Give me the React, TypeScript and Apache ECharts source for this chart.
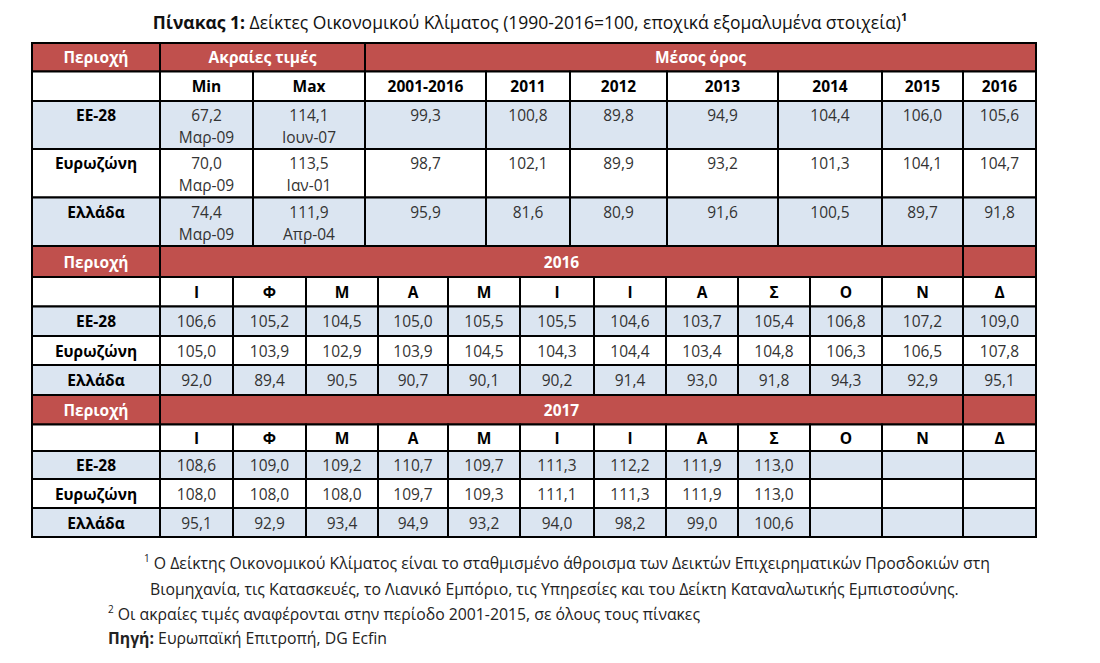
import React, { useEffect, useRef } from "react";
import * as echarts from "echarts";

// ---------- DATA ----------
const regions = ["ΕΕ-28", "Ευρωζώνη", "Ελλάδα"];
const extremeMin = [67.2, 70.0, 74.4];
const extremeMinDates = ["Μαρ-09", "Μαρ-09", "Μαρ-09"];
const extremeMax = [114.1, 113.5, 111.9];
const extremeMaxDates = ["Ιουν-07", "Ιαν-01", "Απρ-04"];
const avgPeriods = ["2001-2016", "2011", "2012", "2013", "2014", "2015", "2016"];
const avgEE28 = [99.3, 100.8, 89.8, 94.9, 104.4, 106.0, 105.6];
const avgEurozone = [98.7, 102.1, 89.9, 93.2, 101.3, 104.1, 104.7];
const avgGreece = [95.9, 81.6, 80.9, 91.6, 100.5, 89.7, 91.8];
const months = ["Ι", "Φ", "Μ", "Α", "Μ", "Ι", "Ι", "Α", "Σ", "Ο", "Ν", "Δ"];
const years = ["2016", "2017"];
const m2016EE28 = [106.6, 105.2, 104.5, 105.0, 105.5, 105.5, 104.6, 103.7, 105.4, 106.8, 107.2, 109.0];
const m2016Eurozone = [105.0, 103.9, 102.9, 103.9, 104.5, 104.3, 104.4, 103.4, 104.8, 106.3, 106.5, 107.8];
const m2016Greece = [92.0, 89.4, 90.5, 90.7, 90.1, 90.2, 91.4, 93.0, 91.8, 94.3, 92.9, 95.1];
const m2017EE28 = [108.6, 109.0, 109.2, 110.7, 109.7, 111.3, 112.2, 111.9, 113.0];
const m2017Eurozone = [108.0, 108.0, 108.0, 109.7, 109.3, 111.1, 111.3, 111.9, 113.0];
const m2017Greece = [95.1, 92.9, 93.4, 94.9, 93.2, 94.0, 98.2, 99.0, 100.6];

const titleBold = "Πίνακας 1:";
const titleRest = " Δείκτες Οικονομικού Κλίματος (1990-2016=100, εποχικά εξομαλυμένα στοιχεία)";
const footnote1a = "Ο Δείκτης Οικονομικού Κλίματος είναι το σταθμισμένο άθροισμα των Δεικτών Επιχειρηματικών Προσδοκιών στη";
const footnote1b = "Βιομηχανία, τις Κατασκευές, το Λιανικό Εμπόριο, τις Υπηρεσίες και του Δείκτη Καταναλωτικής Εμπιστοσύνης.";
const footnote2 = "Οι ακραίες τιμές αναφέρονται στην περίοδο 2001-2015, σε όλους τους πίνακες";
const sourceLabel = "Πηγή:";
const sourceText = " Ευρωπαϊκή Επιτροπή, DG Ecfin";

// ---------- LAYOUT (table units) ----------
const colsTop = [0, 128, 221, 333, 454, 538, 635, 746, 850, 931, 1004];
const colsMonth = [128, 201, 274, 346, 416, 488, 562, 634, 706, 778, 850, 931, 1004];
const RED = "#c0504d";
const BLUE = "#dbe5f1";
const FONT = "'Open Sans', 'Noto Sans', sans-serif";
const TABLE_FS = 15.5;
const NOTE_FS = 15.8;

const fmt = (v: number) => v.toFixed(1).replace(".", ",");

type Cell = {
  x0: number; y0: number; x1: number; y1: number;
  text: string; kind: "red" | "head" | "label" | "val" | "valTop" | "labelTop"; bg: string;
};

function buildCells(): Cell[] {
  const cells: Cell[] = [];
  const add = (x0: number, y0: number, x1: number, y1: number, text: string, kind: Cell["kind"], bg: string) =>
    cells.push({ x0, y0, x1, y1, text, kind, bg });

  // Section A
  add(0, 0, 128, 28.5, "Περιοχή", "red", RED);
  add(128, 0, 333, 28.5, "Ακραίες τιμές", "red", RED);
  add(333, 0, 1004, 28.5, "Μέσος όρος", "red", RED);
  add(0, 28.5, 128, 58, "", "head", "#ffffff");
  add(128, 28.5, 221, 58, "Min", "head", "#ffffff");
  add(221, 28.5, 333, 58, "Max", "head", "#ffffff");
  avgPeriods.forEach((p, i) => add(colsTop[3 + i], 28.5, colsTop[4 + i], 58, p, "head", "#ffffff"));
  const rowsA = [[58, 106], [106, 154.5], [154.5, 203]];
  const avgs = [avgEE28, avgEurozone, avgGreece];
  regions.forEach((r, ri) => {
    const [y0, y1] = rowsA[ri];
    const bg = ri % 2 === 0 ? BLUE : "#ffffff";
    add(0, y0, 128, y1, r, "labelTop", bg);
    add(128, y0, 221, y1, fmt(extremeMin[ri]) + "\n" + extremeMinDates[ri], "valTop", bg);
    add(221, y0, 333, y1, fmt(extremeMax[ri]) + "\n" + extremeMaxDates[ri], "valTop", bg);
    avgs[ri].forEach((v, i) => add(colsTop[3 + i], y0, colsTop[4 + i], y1, fmt(v), "valTop", bg));
  });

  // Monthly sections
  const sections = [
    { year: years[0], red: [203, 234], head: [234, 263.5], rows: [[263.5, 293], [293, 322], [322, 352]], data: [m2016EE28, m2016Eurozone, m2016Greece] },
    { year: years[1], red: [352, 381.5], head: [381.5, 408], rows: [[408, 436], [436, 465], [465, 494]], data: [m2017EE28, m2017Eurozone, m2017Greece] },
  ];
  sections.forEach((s) => {
    add(0, s.red[0], 128, s.red[1], "Περιοχή", "red", RED);
    add(128, s.red[0], 931, s.red[1], s.year, "red", RED);
    add(931, s.red[0], 1004, s.red[1], "", "red", RED);
    add(0, s.head[0], 128, s.head[1], "", "head", "#ffffff");
    months.forEach((m, i) => add(colsMonth[i], s.head[0], colsMonth[i + 1], s.head[1], m, "head", "#ffffff"));
    regions.forEach((r, ri) => {
      const [y0, y1] = s.rows[ri];
      const bg = ri % 2 === 0 ? BLUE : "#ffffff";
      add(0, y0, 128, y1, r, "label", bg);
      months.forEach((_, i) => {
        const v = s.data[ri][i];
        add(colsMonth[i], y0, colsMonth[i + 1], y1, v === undefined ? "" : fmt(v), "val", bg);
      });
    });
  });
  return cells;
}

export default function App() {
  const ref = useRef<HTMLDivElement>(null);
  useEffect(() => {
    if (!ref.current) return;
    const chart = echarts.init(ref.current, undefined, { renderer: "svg" });
    const cells = buildCells();

    const option: any = {
      animation: false,
      backgroundColor: "#ffffff",
      grid: { left: 32, top: 43, width: 1004, height: 494 },
      xAxis: { type: "value", min: 0, max: 1004, show: false },
      yAxis: { type: "value", min: 0, max: 494, inverse: true, show: false },
      series: [
        {
          type: "custom",
          clip: false,
          data: cells.map((c) => [c.x0, c.y0, c.x1, c.y1]),
          encode: { x: [0, 2], y: [1, 3] },
          renderItem: (params: any, api: any) => {
            const c = cells[params.dataIndex];
            const p0 = api.coord([api.value(0), api.value(1)]);
            const p1 = api.coord([api.value(2), api.value(3)]);
            const w = p1[0] - p0[0];
            const h = p1[1] - p0[1];
            const cx = p0[0] + w / 2;
            const isTop = c.kind === "valTop" || c.kind === "labelTop";
            const bold = c.kind === "red" || c.kind === "head" || c.kind === "label" || c.kind === "labelTop";
            const fill = c.kind === "red" ? "#ffffff" : bold ? "#000000" : "#333333";
            return {
              type: "group",
              children: [
                {
                  type: "rect",
                  shape: { x: p0[0], y: p0[1], width: w, height: h },
                  style: { fill: c.bg, stroke: "#000000", lineWidth: 2 },
                },
                {
                  type: "text",
                  x: cx,
                  y: isTop ? p0[1] + 3 : p0[1] + h / 2,
                  style: {
                    text: c.text,
                    fill,
                    fontFamily: FONT,
                    fontSize: TABLE_FS,
                    fontWeight: bold ? "bold" : "normal",
                    align: "center",
                    verticalAlign: isTop ? "top" : "middle",
                    lineHeight: 22,
                  },
                },
              ],
            };
          },
        },
      ],
      graphic: [
        {
          type: "text",
          x: 530,
          y: 22,
          style: {
            text: "{b|" + titleBold + "}{n|" + titleRest + "}{s|1}",
            align: "center",
            verticalAlign: "middle",
            fontFamily: FONT,
            fontSize: 17.5,
            fill: "#111",
            rich: {
              b: { fontFamily: FONT, fontSize: 17.5, fontWeight: "bold", fill: "#111", lineHeight: 22 },
              n: { fontFamily: FONT, fontSize: 17.5, fill: "#111", lineHeight: 22 },
              s: { fontFamily: FONT, fontSize: 11, fontWeight: "bold", fill: "#111", verticalAlign: "top", lineHeight: 22 },
            },
          },
        },
        {
          type: "text",
          x: 144,
          y: 563,
          style: {
            text: "{s|1}{n| " + footnote1a + "}",
            verticalAlign: "middle",
            rich: {
              s: { fontFamily: FONT, fontSize: 10, fill: "#222", verticalAlign: "top", lineHeight: 20 },
              n: { fontFamily: FONT, fontSize: NOTE_FS, fill: "#222", lineHeight: 20 },
            },
          },
        },
        {
          type: "text",
          x: 150,
          y: 589,
          style: { text: footnote1b, fontFamily: FONT, fontSize: NOTE_FS, fill: "#222", verticalAlign: "middle" },
        },
        {
          type: "text",
          x: 108,
          y: 614,
          style: {
            text: "{s|2}{n| " + footnote2 + "}",
            verticalAlign: "middle",
            rich: {
              s: { fontFamily: FONT, fontSize: 10, fill: "#222", verticalAlign: "top", lineHeight: 20 },
              n: { fontFamily: FONT, fontSize: NOTE_FS, fill: "#222", lineHeight: 20 },
            },
          },
        },
        {
          type: "text",
          x: 108,
          y: 638,
          style: {
            text: "{b|" + sourceLabel + "}{n|" + sourceText + "}",
            verticalAlign: "middle",
            rich: {
              b: { fontFamily: FONT, fontSize: NOTE_FS, fontWeight: "bold", fill: "#222" },
              n: { fontFamily: FONT, fontSize: NOTE_FS, fill: "#222" },
            },
          },
        },
      ],
    };
    chart.setOption(option);
    return () => chart.dispose();
  }, []);

  return (
    <div
      ref={ref}
      style={{ position: "fixed", left: 0, top: 0, width: 1100, height: 663, background: "#ffffff" }}
    />
  );
}
